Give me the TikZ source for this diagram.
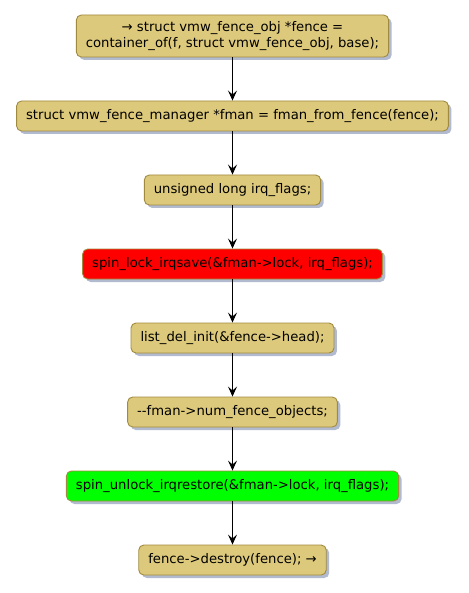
\documentclass[tikz,border=0pt]{standalone}
\usepackage{fontspec}
\newfontfamily\dv{DejaVu Sans}
\usetikzlibrary{arrows.meta,shadows}
\definecolor{boxfill}{HTML}{DDC97B}
\definecolor{boxdraw}{HTML}{A08A3F}
\definecolor{shadowc}{HTML}{A9B3C9}
\definecolor{redfill}{HTML}{FF0000}
\definecolor{greenfill}{HTML}{00FF00}
\tikzset{
  act/.style={draw=boxdraw, line width=0.9pt, fill=boxfill, rounded corners=5pt,
    font=\dv\fontsize{13.2}{15.5}\selectfont, inner xsep=9.5pt, inner ysep=0pt,
    minimum height=30pt, align=center,
    drop shadow={shadow xshift=3pt, shadow yshift=-3pt, fill=shadowc, opacity=0.9}},
  flow/.style={draw=black, line width=0.9pt, -{Stealth[length=10pt,width=9pt,inset=4pt]}}
}
\begin{document}
\begin{tikzpicture}[x=1pt,y=-1pt]
\useasboundingbox (0,0) rectangle (468,593);
\node[act, minimum height=42pt] (n1) at (232.5,36) {→ struct vmw\_fence\_obj *fence =\\container\_of(f, struct vmw\_fence\_obj, base);};
\node[act] (n2) at (232.5,116) {struct vmw\_fence\_manager *fman = fman\_from\_fence(fence);};
\node[act] (n3) at (232.5,190) {unsigned long irq\_flags;};
\node[act, fill=redfill] (n4) at (232.5,264) {spin\_lock\_irqsave(\&fman->lock, irq\_flags);};
\node[act] (n5) at (232.5,338) {list\_del\_init(\&fence->head);};
\node[act] (n6) at (232.5,412) {{-}{-}fman->num\_fence\_objects;};
\node[act, fill=greenfill] (n7) at (232.5,486) {spin\_unlock\_irqrestore(\&fman->lock, irq\_flags);};
\node[act] (n8) at (232.5,560) {fence->destroy(fence); →};
\draw[flow] (n1) -- (n2);
\draw[flow] (n2) -- (n3);
\draw[flow] (n3) -- (n4);
\draw[flow] (n4) -- (n5);
\draw[flow] (n5) -- (n6);
\draw[flow] (n6) -- (n7);
\draw[flow] (n7) -- (n8);
\end{tikzpicture}
\end{document}
